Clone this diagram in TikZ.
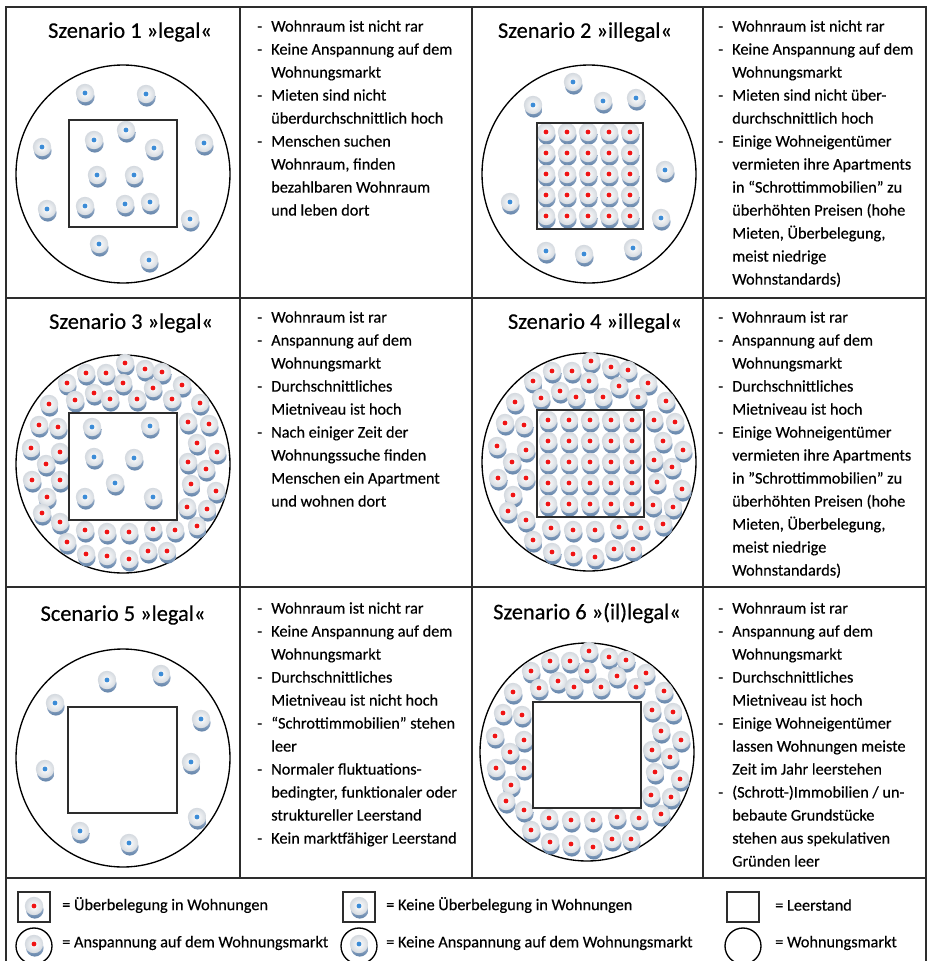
\documentclass[tikz,border=0pt]{standalone}
\usepackage{fontspec}
\setmainfont{Carlito}[FakeBold=0.4]
\usetikzlibrary{positioning}
\definecolor{dotred}{RGB}{240,20,20}
\definecolor{dotblue}{RGB}{60,140,215}
\definecolor{shadeblue}{RGB}{100,132,170}
\definecolor{shadelight}{RGB}{190,204,222}
\definecolor{discgray}{RGB}{212,217,223}
\definecolor{linegray}{RGB}{45,45,45}
\newcommand{\itemdash}{\makebox[10.5pt][l]{-}}
\newcommand{\itemgap}{\hspace*{10.5pt}}
% ring of tenants round the empty block (offsets from the circle centre)
\newcommand{\ringpos}{2/-101, 22/-95, 39/-92, -37/-91, -17/-91, -56/-81, 0/-81,
  30/-76, 59/-79, -29/-71, -13/-65, -48/-64, 14/-65, 49/-65, -74/-60, 77/-61,
  -84/-39, -65/-37, 65/-42, 86/-40, -92/-16, -63/-12, 74/-21, 94/-12, -77/0,
  65/-2, 83/5, -91/16, -63/16, 68/20, 93/27, -76/33, 64/43, 84/45, -81/49,
  -63/58, 74/62, -38/66, -16/68, 6/68, 30/65, 52/66, -56/78, -37/90, -16/92,
  6/95, 25/87, 44/87}

\begin{document}
\begin{tikzpicture}[x=0.75pt, y=-0.75pt,
    cell/.style={draw=linegray, line width=1.1pt},
    market/.style={draw=black, line width=1pt},
    vacant/.style={draw=linegray, line width=1.4pt},
    title/.style={font=\fontsize{16.8}{19}\selectfont, inner sep=0},
    list/.style={font=\fontsize{12.2}{17.25}\selectfont, align=left, anchor=north west, inner sep=0},
    legend/.style={font=\fontsize{12.2}{14}\selectfont, anchor=west, inner sep=0},
    pers/.pic={
      \shade[top color=shadelight, bottom color=shadeblue] (0.8,3.8) circle (8.8);
      \shade[inner color=white, outer color=discgray] (0,0) circle (9.2);
      \fill[#1] (0,0) circle (2.4);
    }]

  \useasboundingbox (0,0) rectangle (928,961);
  \clip (0,0) rectangle (928,961);

  % Table lines
  \draw[cell] (6,7) rectangle (926,970);
  \draw[cell] (6,298) -- (926,298) (6,587) -- (926,587) (6,878) -- (926,878);
  \draw[cell] (240,7) -- (240,878) (472,7) -- (472,878) (703,7) -- (703,878);

  % Titles
  \node[title] (T1) at (130,32) {Szenario 1 »legal«};
  \node[title] (T2) at (585,32) {Szenario 2 »illegal«};
  \node[title] (T3) at (131,323) {Szenario 3 »legal«};
  \node[title] (T4) at (595,323) {Szenario 4 »illegal«};
  \node[title] (T5) at (123,615) {Scenario 5 »legal«};
  \node[title] (T6) at (587,613) {Szenario 6 »(il)legal«};

  % Scenario 1
  \begin{scope}[shift={(123,174)}]
    \draw[market] (0,0) circle [x radius=107, y radius=109];
    \foreach \dx/\dy in {-38/-81, 23/-80, 3/-44, -29/-34, 31/-26, -81/-27, 81/-31,
        -26/1, 11/1, -76/35, -38/32, 2/30, 27/28, 67/45, -24/70, 26/86}
      \pic at (\dx,\dy) {pers=dotblue};
    \draw[vacant] (-54,-54) rectangle (54,53);
  \end{scope}

  % Scenario 2
  \begin{scope}[shift={(589,174)}]
    \draw[market] (0,0) circle [x radius=107, y radius=109];
    \foreach \dx/\dy in {-16/-92, 14/-73, 47/-76, -56/-69, 76/-4, 72/44, -79/28,
        -43/77, -5/80, 44/74}
      \pic at (\dx,\dy) {pers=dotblue};
    \foreach \i in {0,...,4}
      \foreach \j in {0,...,4}
        \pic at (21*\i-43,21*\j-42) {pers=dotred};
    \draw[vacant] (-52,-51) rectangle (54,55);
  \end{scope}

  % Scenario 3
  \begin{scope}[shift={(123,464)}]
    \draw[market] (0,0) circle [x radius=107, y radius=109];
    \foreach \dx/\dy in \ringpos
      \pic at (\dx,\dy) {pers=dotred};
    \foreach \dx/\dy in {-31/-37, 27/-38, -29/-7, 11/-6, -8/19, -38/33, 30/33}
      \pic at (\dx,\dy) {pers=dotblue};
    \draw[vacant] (-54,-51) rectangle (54,56);
  \end{scope}

  % Scenario 4
  \begin{scope}[shift={(589,462)}]
    \draw[market] (0,0) circle [x radius=107, y radius=109];
    \foreach \dx/\dy in \ringpos
      \pic at (\dx,\dy) {pers=dotred};
    \foreach \i in {0,...,4}
      \foreach \j in {0,...,4}
        \pic at (21*\i-41,21*\j-42) {pers=dotred};
    \draw[vacant] (-52,-52) rectangle (55,55);
  \end{scope}

  % Scenario 5
  \begin{scope}[shift={(123,758)}]
    \draw[market] (0,0) circle [x radius=107, y radius=109];
    \foreach \dx/\dy in {-16/-78, 38/-84, -68/-55, 78/-39, -78/11, 68/4, 74/59,
        -43/73, 6/85}
      \pic at (\dx,\dy) {pers=dotblue};
    \draw[vacant] (-55,-51) rectangle (54,55);
  \end{scope}

  % Scenario 6
  \begin{scope}[shift={(587,752)}]
    \draw[market] (0,0) circle [x radius=107, y radius=109];
    \foreach \dx/\dy in \ringpos
      \pic at (\dx,\dy) {pers=dotred};
    \draw[vacant] (-54,-50) rectangle (54,56);
  \end{scope}

  % Descriptions
  \node[list] (D1) at (257,20) {\itemdash Wohnraum ist nicht rar\\
    \itemdash Keine Anspannung auf dem\\ \itemgap Wohnungsmarkt\\
    \itemdash Mieten sind nicht\\ \itemgap überdurchschnittlich hoch\\
    \itemdash Menschen suchen\\ \itemgap Wohnraum, finden\\
    \itemgap bezahlbaren Wohnraum\\ \itemgap und leben dort};
  \node[list] (D2) at (718,20) {\itemdash Wohnraum ist nicht rar\\
    \itemdash Keine Anspannung auf dem\\ \itemgap Wohnungsmarkt\\
    \itemdash Mieten sind nicht über-\\ \itemgap durchschnittlich hoch\\
    \itemdash Einige Wohneigentümer\\ \itemgap vermieten ihre Apartments\\
    \itemgap in “Schrottimmobilien” zu\\ \itemgap überhöhten Preisen (hohe\\
    \itemgap Mieten, Überbelegung,\\ \itemgap meist niedrige\\
    \itemgap Wohnstandards)};
  \node[list] (D3) at (257,311) {\itemdash Wohnraum ist rar\\
    \itemdash Anspannung auf dem\\ \itemgap Wohnungsmarkt\\
    \itemdash Durchschnittliches\\ \itemgap Mietniveau ist hoch\\
    \itemdash Nach einiger Zeit der\\ \itemgap Wohnungssuche finden\\
    \itemgap Menschen ein Apartment\\ \itemgap und wohnen dort};
  \node[list] (D4) at (718,311) {\itemdash Wohnraum ist rar\\
    \itemdash Anspannung auf dem\\ \itemgap Wohnungsmarkt\\
    \itemdash Durchschnittliches\\ \itemgap Mietniveau ist hoch\\
    \itemdash Einige Wohneigentümer\\ \itemgap vermieten ihre Apartments\\
    \itemgap in "Schrottimmobilien" zu\\ \itemgap überhöhten Preisen (hohe\\
    \itemgap Mieten, Überbelegung,\\ \itemgap meist niedrige\\
    \itemgap Wohnstandards)};
  \node[list] (D5) at (257,602) {\itemdash Wohnraum ist nicht rar\\
    \itemdash Keine Anspannung auf dem\\ \itemgap Wohnungsmarkt\\
    \itemdash Durchschnittliches\\ \itemgap Mietniveau ist nicht hoch\\
    \itemdash “Schrottimmobilien” stehen\\ \itemgap leer\\
    \itemdash Normaler fluktuations-\\ \itemgap bedingter, funktionaler oder\\
    \itemgap struktureller Leerstand\\
    \itemdash Kein marktfähiger Leerstand};
  \node[list] (D6) at (718,602) {\itemdash Wohnraum ist rar\\
    \itemdash Anspannung auf dem\\ \itemgap Wohnungsmarkt\\
    \itemdash Durchschnittliches\\ \itemgap Mietniveau ist hoch\\
    \itemdash Einige Wohneigentümer\\ \itemgap lassen Wohnungen meiste\\
    \itemgap Zeit im Jahr leerstehen\\
    \itemdash (Schrott-)Immobilien / un-\\ \itemgap bebaute Grundstücke\\
    \itemgap stehen aus spekulativen\\ \itemgap Gründen leer};

  % Legend
  \draw[vacant, line width=1pt] (18,892) rectangle (50,922);
  \pic at (34,906) {pers=dotred};
  \node[legend] (L1) at (62,905) {= Überbelegung in Wohnungen};
  \draw[vacant, line width=1pt] (343,892) rectangle (375,922);
  \pic at (359,906) {pers=dotblue};
  \node[legend] (L2) at (386,905) {= Keine Überbelegung in Wohnungen};
  \draw[vacant, line width=1pt] (727,892) rectangle (759,922);
  \node[legend] (L3) at (775,905) {= Leerstand};
  \draw[market] (34,946) circle (18);
  \pic at (34,944) {pers=dotred};
  \node[legend] (L4) at (62,943) {= Anspannung auf dem Wohnungsmarkt};
  \draw[market] (359,946) circle (18);
  \pic at (359,944) {pers=dotblue};
  \node[legend] (L5) at (386,943) {= Keine Anspannung auf dem Wohnungsmarkt};
  \draw[market] (743,946) circle (18);
  \node[legend] (L6) at (775,943) {= Wohnungsmarkt};
\end{tikzpicture}
\end{document}
